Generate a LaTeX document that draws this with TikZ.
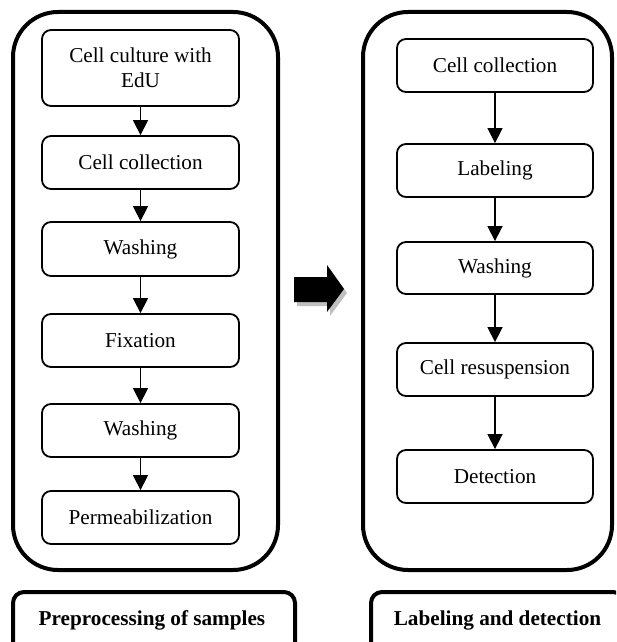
\documentclass[tikz,border=0pt]{standalone}
\usepackage{fontspec}
\setmainfont{Liberation Serif}
\usetikzlibrary{arrows.meta}
\tikzset{
  stepbox/.style={draw, line width=1.8pt, rounded corners=9pt, minimum height=53pt, inner sep=2pt,
    font=\fontsize{21.2}{25.4}\selectfont, align=center},
  lbox/.style={stepbox, minimum width=197pt},
  rbox/.style={stepbox, minimum width=196pt},
  flow/.style={draw, line width=1.5pt, -{Triangle[width=15pt,length=15pt]}},
  bigbox/.style={draw, line width=4pt, rounded corners=45pt},
  labelbox/.style={draw, line width=4pt, rounded corners=11pt},
  labeltext/.style={font=\fontsize{21.2}{25.4}\selectfont\bfseries}
}
\begin{document}
\begin{tikzpicture}[x=1pt,y=-1pt]
\useasboundingbox (0,0) rectangle (616,642);
\clip (0,0) rectangle (616,642);
\fill[white] (0,0) rectangle (616,642);
% big containers
\draw[bigbox] (13,12) rectangle (278,570);
\draw[bigbox] (363,12) rectangle (612,570);
% left column
\node[lbox, minimum height=76pt] (l1) at (140.5,68) {Cell culture with\\EdU};
\node[lbox] (l2) at (140.5,162.5) {Cell collection};
\node[lbox, minimum height=54pt] (l3) at (140.5,249) {Washing};
\node[lbox] (l4) at (140.5,340.5) {Fixation};
\node[lbox] (l5) at (140.5,430.5) {Washing};
\node[lbox] (l6) at (140.5,517.5) {Permeabilization};
\draw[flow] (l1) -- (l2);
\draw[flow] (l2) -- (l3);
\draw[flow] (l3) -- (l4);
\draw[flow] (l4) -- (l5);
\draw[flow] (l5) -- (l6);
% right column
\node[rbox] (r1) at (495,65.5) {Cell collection};
\node[rbox] (r2) at (495,170.5) {Labeling};
\node[rbox, minimum height=52pt] (r3) at (495,268) {Washing};
\node[rbox] (r4) at (495,369.5) {Cell resuspension};
\node[rbox] (r5) at (495,476.5) {Detection};
\draw[flow] (r1) -- (r2);
\draw[flow] (r2) -- (r3);
\draw[flow] (r3) -- (r4);
\draw[flow] (r4) -- (r5);
% block arrow with shadow
\fill[black!25] (297,281) -- (330,281) -- (330,269) -- (347,293) -- (330,316) -- (330,306) -- (297,306) -- cycle;
\fill[black] (294,277) -- (327,277) -- (327,265) -- (344,289) -- (327,312) -- (327,302) -- (294,302) -- cycle;
% bottom labels
\draw[labelbox] (13,592) rectangle (295,662);
\draw[labelbox] (371,592) rectangle (624,662);
\node[labeltext] (t1) at (152,620) {Preprocessing of samples};
\node[labeltext] (t2) at (497.5,620) {Labeling and detection};
\end{tikzpicture}
\end{document}
